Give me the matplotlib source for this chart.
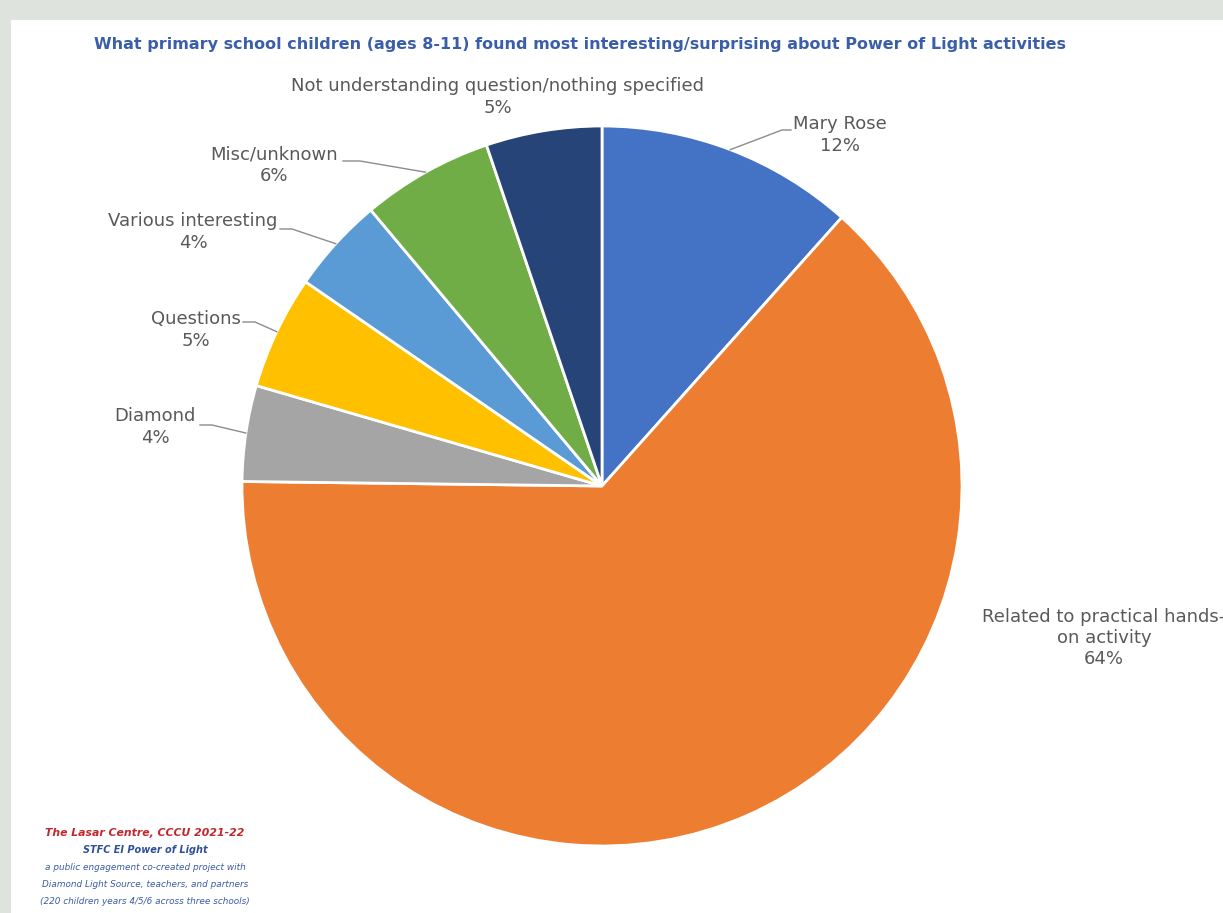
import matplotlib.pyplot as plt
import numpy as np

categories = [
    "Mary Rose",
    "Related to practical hands-\non activity",
    "Diamond",
    "Questions",
    "Various interesting",
    "Misc/unknown",
    "Not understanding question/nothing specified",
]
shares = [11.6, 63.6, 4.3, 5.1, 4.3, 5.9, 5.2]
pct_labels = ["12%", "64%", "4%", "5%", "4%", "6%", "5%"]
colors = ["#4472C4", "#ED7D31", "#A5A5A5", "#FFC000", "#5B9BD5", "#70AD47", "#264478"]

title = "What primary school children (ages 8-11) found most interesting/surprising about Power of Light activities"
footer = [
    ("The Lasar Centre, CCCU 2021-22", "#C0282D", "bold", 7.8),
    ("STFC EI Power of Light", "#2F4F9A", "bold", 7.0),
    ("a public engagement co-created project with", "#3B5BA5", "normal", 6.4),
    ("Diamond Light Source, teachers, and partners", "#3B5BA5", "normal", 6.4),
    ("(220 children years 4/5/6 across three schools)", "#3B5BA5", "normal", 6.4),
]

W, H = 1223, 913
CX, CY, R = 602, 486, 360
LEFT, TOP = 11, 20

fig = plt.figure(figsize=(W / 100, H / 100), dpi=100)
fig.patch.set_facecolor("#dee3dd")

ax = fig.add_axes([LEFT / W, 0, 1 - LEFT / W, (H - TOP) / H])


def px(x, y):
    # pixel position (from top-left) to data coords
    return (x - CX) / R, (CY - y) / R


wedges, _ = ax.pie(shares, colors=colors, startangle=90, counterclock=False, radius=1,
                   center=(0, 0), wedgeprops=dict(edgecolor="white", linewidth=2))
ax.set_aspect("auto")
ax.set_xlim((LEFT - CX) / R, (W - CX) / R)
ax.set_ylim((CY - H) / R, (CY - TOP) / R)
ax.set_frame_on(True)
ax.set_facecolor("white")
for s in ax.spines.values():
    s.set_visible(False)
ax.set_xticks([])
ax.set_yticks([])

grey = "#595959"
# label text centre (px) and text side of leader line (px), None = no leader
label_pos = [
    (840, 135, (791, 130), (782, 130)),
    (1104, 638, None, None),
    (155, 427, (200, 425), (212, 425)),
    (196, 330, (243, 322), (255, 322)),
    (193, 232, (280, 229), (292, 229)),
    (274, 165, (343, 161), (360, 161)),
    (498, 97, None, None),
]

for w, name, pct, (tx, ty, p_end, p_elbow) in zip(wedges, categories, pct_labels, label_pos):
    ax.text(*px(tx, ty), f"{name}\n{pct}", ha="center", va="center", fontsize=13,
            color=grey, linespacing=1.22)
    if p_end is not None:
        mid = np.deg2rad((w.theta1 + w.theta2) / 2)
        ex, ey = np.cos(mid), np.sin(mid)
        x1, y1 = px(*p_end)
        x2, y2 = px(*p_elbow)
        ax.plot([x1, x2, ex], [y1, y2, ey], color="#8c8c8c", lw=1)

fig.text(580 / W, 1 - 45 / H, title, ha="center", va="center", fontsize=11.5,
         fontweight="bold", color="#3A5EA8")

fy = 833
for txt, col, wt, fs in footer:
    fig.text(145 / W, 1 - fy / H, txt, ha="center", va="center", fontsize=fs,
             fontweight=wt, style="italic", color=col)
    fy += 17

fig.savefig("out.png", dpi=100)
